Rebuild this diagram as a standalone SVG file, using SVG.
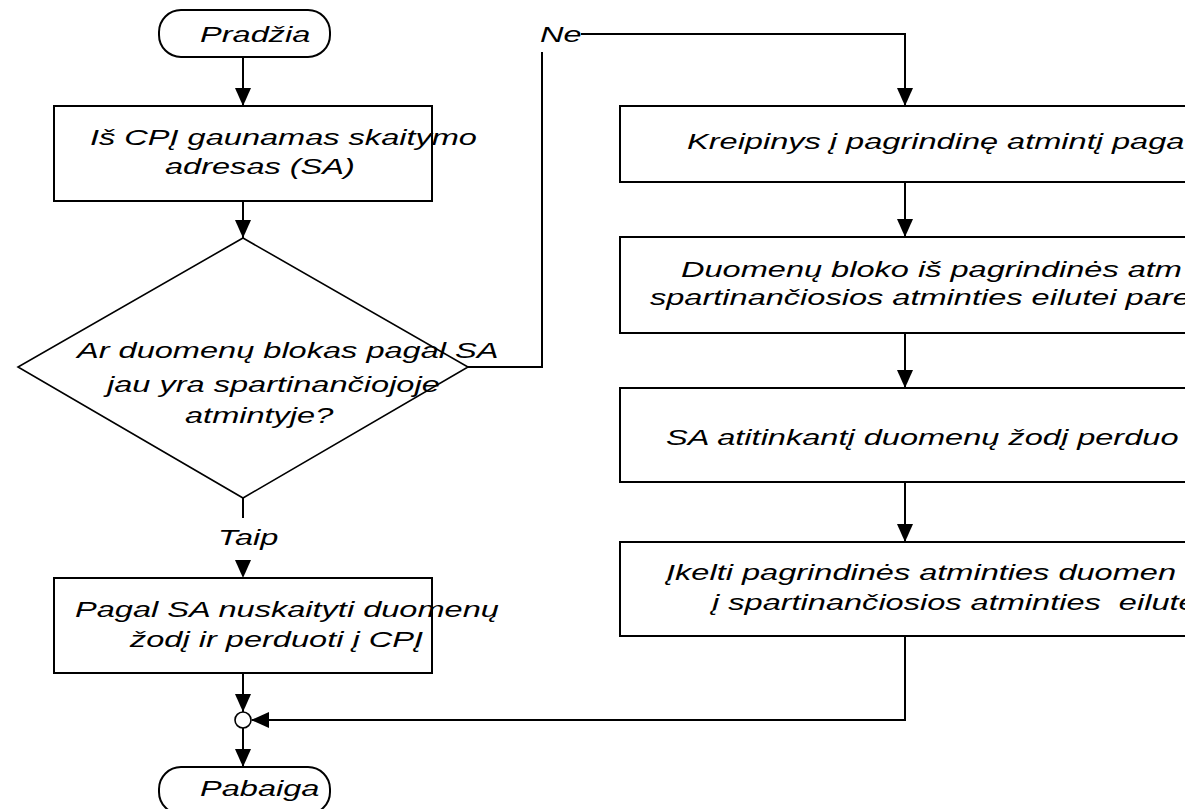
<svg xmlns="http://www.w3.org/2000/svg" xmlns:xlink="http://www.w3.org/1999/xlink" width="1188" height="809" viewBox="0 0 1188 809">
  <style>
    .shape { fill: #ffffff; stroke: #000000; stroke-width: 2; }
    .diamond { fill: #ffffff; stroke: #000000; stroke-width: 1.6; }
    .wire { fill: none; stroke: #000000; stroke-width: 2; }
    /* wide italic lettering: glyphs are stretched horizontally via each text's matrix */
    .lbl { font-family: "Liberation Sans", Arial, sans-serif; font-style: italic; font-size: 22px; fill: #000000; }
  </style>
  <defs>
    <!-- filled arrowhead pointing down, tip at the origin -->
    <path id="ah" d="M-8 -18 L8 -18 L0 0 Z" fill="#000000"/>
    <clipPath id="pageRight">
      <rect x="0" y="0" width="1185" height="809"/>
    </clipPath>
  </defs>

  <rect width="1188" height="809" fill="#ffffff"/>

  <!-- connectors -->
  <g id="connectors">
    <path class="wire" d="M243 57 V106"/>
    <path class="wire" d="M243 201 V238"/>
    <path class="wire" d="M243 498 V518"/>
    <path class="wire" d="M468 367 H542 V52"/>
    <path class="wire" d="M581 34 H905 V106"/>
    <path class="wire" d="M905 182 V237"/>
    <path class="wire" d="M905 333 V388"/>
    <path class="wire" d="M905 482 V542"/>
    <path class="wire" d="M905 636 V720 H252"/>
    <path class="wire" d="M243 673 V712"/>
    <path class="wire" d="M243 728 V767"/>
    <use xlink:href="#ah" href="#ah" transform="translate(243,106)"/>
    <use xlink:href="#ah" href="#ah" transform="translate(243,238)"/>
    <use xlink:href="#ah" href="#ah" transform="translate(243,578)"/>
    <use xlink:href="#ah" href="#ah" transform="translate(905,106)"/>
    <use xlink:href="#ah" href="#ah" transform="translate(905,237)"/>
    <use xlink:href="#ah" href="#ah" transform="translate(905,388)"/>
    <use xlink:href="#ah" href="#ah" transform="translate(905,542)"/>
    <use xlink:href="#ah" href="#ah" transform="translate(243,712)"/>
    <use xlink:href="#ah" href="#ah" transform="translate(243,767)"/>
    <use xlink:href="#ah" href="#ah" transform="translate(251,720) rotate(90)"/>
    <text class="lbl" transform="matrix(1.48 0 0 1 540 42)">Ne</text>
    <text class="lbl" transform="matrix(1.48 0 0 1 218 545)">Taip</text>
  </g>

  <!-- start -->
  <g id="n-start">
    <rect class="shape" x="159" y="10" width="171" height="47" rx="22" ry="22"/>
    <text class="lbl" transform="matrix(1.48 0 0 1 200 42)">Pradžia</text>
  </g>

  <!-- read address from CPU -->
  <g id="n-read-address">
    <rect class="shape" x="54" y="106" width="378" height="95"/>
    <text class="lbl" transform="matrix(1.48 0 0 1 90 145)">Iš CPĮ gaunamas skaitymo</text>
    <text class="lbl" transform="matrix(1.48 0 0 1 165 174)">adresas (SA)</text>
  </g>

  <!-- cache hit test -->
  <g id="n-decision">
    <polygon class="diamond" points="243,238 468,367 243,498 18,367"/>
    <text class="lbl" transform="matrix(1.48 0 0 1 77 358)">Ar duomenų blokas pagal SA</text>
    <text class="lbl" transform="matrix(1.48 0 0 1 107 392)">jau yra spartinančiojoje</text>
    <text class="lbl" transform="matrix(1.48 0 0 1 185 423)">atmintyje?</text>
  </g>

  <!-- hit: read word -->
  <g id="n-read-word">
    <rect class="shape" x="54" y="578" width="378" height="95"/>
    <text class="lbl" transform="matrix(1.48 0 0 1 75 617)">Pagal SA nuskaityti duomenų</text>
    <text class="lbl" transform="matrix(1.48 0 0 1 130 647)">žodį ir perduoti į CPĮ</text>
  </g>

  <!-- merge point -->
  <g id="n-merge">
    <circle cx="243" cy="720" r="8" fill="#ffffff" stroke="#000000" stroke-width="1.6"/>
  </g>

  <!-- end -->
  <g id="n-end">
    <rect class="shape" x="159" y="767" width="171" height="47" rx="22" ry="22"/>
    <text class="lbl" transform="matrix(1.48 0 0 1 200 796)">Pabaiga</text>
  </g>

  <!-- miss branch, clipped at the page edge -->
  <g clip-path="url(#pageRight)">
    <g id="n-memory-request">
      <rect class="shape" x="620" y="106" width="566" height="76"/>
      <text class="lbl" transform="matrix(1.48 0 0 1 687 149)">Kreipinys į pagrindinę atmintį paga</text>
    </g>
    <g id="n-block-transfer">
      <rect class="shape" x="620" y="237" width="566" height="96"/>
      <text class="lbl" transform="matrix(1.48 0 0 1 681 277)">Duomenų bloko iš pagrindinės atm</text>
      <text class="lbl" transform="matrix(1.48 0 0 1 650 305)">spartinančiosios atminties eilutei pare</text>
    </g>
    <g id="n-word-send">
      <rect class="shape" x="620" y="388" width="566" height="94"/>
      <text class="lbl" transform="matrix(1.48 0 0 1 666 445)">SA atitinkantį duomenų žodį perduo</text>
    </g>
    <g id="n-line-load">
      <rect class="shape" x="620" y="542" width="566" height="94"/>
      <text class="lbl" transform="matrix(1.48 0 0 1 666 580)">Įkelti pagrindinės atminties duomen</text>
      <text class="lbl" transform="matrix(1.48 0 0 1 712 610)" xml:space="preserve">į spartinančiosios atminties  eilute</text>
    </g>
  </g>
</svg>
